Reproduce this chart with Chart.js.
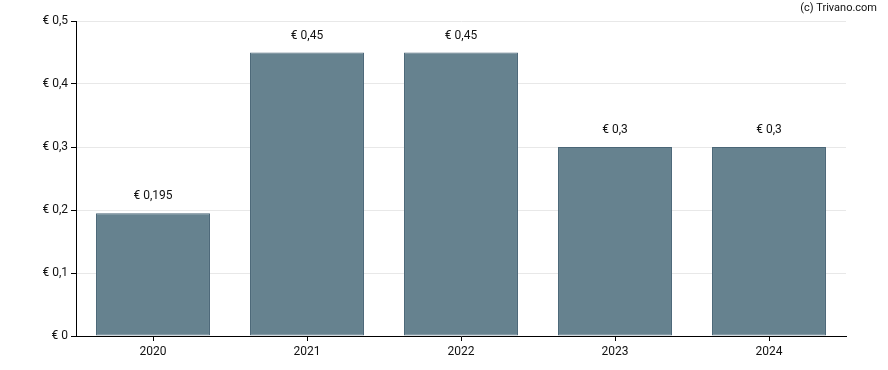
<!DOCTYPE html>
<html><head><meta charset="utf-8">
<script src="https://cdn.jsdelivr.net/npm/chart.js@4/dist/chart.umd.min.js"></script>
<style>html,body{margin:0;padding:0;background:#fff;}#wrap{width:888px;height:370px;position:relative;}</style>
</head><body><div id="wrap"><canvas id="c" width="888" height="370"></canvas></div>
<script>
const categories = ['2020','2021','2022','2023','2024'];
const values = [0.195, 0.45, 0.45, 0.3, 0.3];
const valueLabels = ['€ 0,195','€ 0,45','€ 0,45','€ 0,3','€ 0,3'];
const yTicks = [0, 0.1, 0.2, 0.3, 0.4, 0.5];
const yTickLabels = ['€ 0','€ 0,1','€ 0,2','€ 0,3','€ 0,4','€ 0,5'];
const credit = '(c) Trivano.com';
const FONT = 'Roboto, "Liberation Sans", Arial, sans-serif';

const labelPlugin = {
  id: 'valueLabels',
  afterDatasetsDraw(chart) {
    const ctx = chart.ctx;
    const meta = chart.getDatasetMeta(0);
    ctx.save();
    ctx.font = '12px ' + FONT;
    ctx.fillStyle = '#111';
    ctx.textAlign = 'center';
    ctx.textBaseline = 'bottom';
    meta.data.forEach((bar, i) => {
      ctx.fillText(valueLabels[i], bar.x, bar.y - 11);
    });
    ctx.textAlign = 'right';
    ctx.textBaseline = 'middle';
    ctx.font = '11px ' + FONT;
    ctx.fillText(credit, 877, 8);
    ctx.restore();
  }
};

new Chart(document.getElementById('c'), {
  type: 'bar',
  data: {
    labels: categories,
    datasets: [{
      data: values,
      backgroundColor: '#66828f',
      borderColor: '#4a6677',
      borderWidth: 1,
      borderSkipped: false,
      barPercentage: 0.74,
      categoryPercentage: 1.0
    }]
  },
  options: {
    responsive: false,
    animation: false,
    devicePixelRatio: 1,
    layout: { padding: { left: 0, right: 42, top: 21, bottom: 0 } },
    plugins: { legend: { display: false }, tooltip: { enabled: false } },
    scales: {
      x: {
        grid: { display: true, drawOnChartArea: false, drawTicks: true, tickLength: 5, tickColor: '#000', offset: false },
        border: { display: true, color: '#000', width: 1 },
        ticks: { color: '#111', font: { size: 12, family: FONT }, padding: 4 },
        afterFit(s) { s.height = 34; }
      },
      y: {
        min: 0, max: 0.5,
        afterBuildTicks(s) { s.ticks = yTicks.map(v => ({ value: v })); },
        grid: { color: '#e8e8e8', drawTicks: true, tickLength: 5, tickColor: '#000' },
        border: { display: true, color: '#000', width: 1 },
        ticks: {
          color: '#111', font: { size: 12, family: FONT }, padding: 3,
          callback(v) { const i = yTicks.indexOf(v); return i >= 0 ? yTickLabels[i] : ''; }
        },
        afterFit(s) { s.width = 76; }
      }
    }
  },
  plugins: [labelPlugin]
});
</script></body></html>
